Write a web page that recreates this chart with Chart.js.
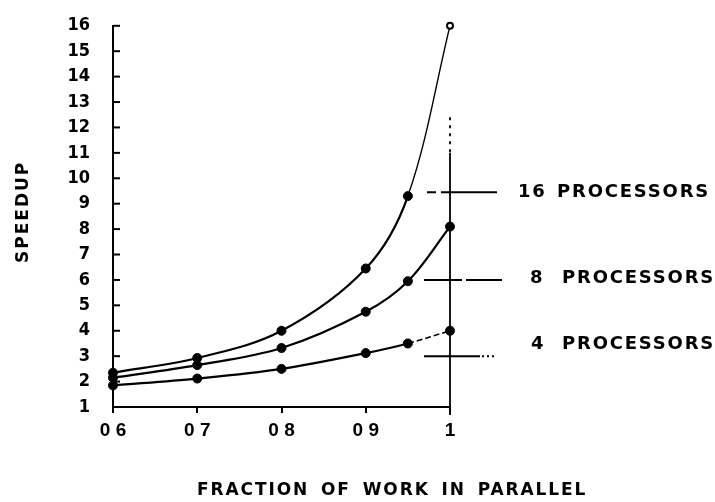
<!DOCTYPE html>
<html>
<head>
<meta charset="utf-8">
<script src="https://cdn.jsdelivr.net/npm/chart.js@4.4.1/dist/chart.umd.min.js"></script>
<style>
  html, body { margin: 0; padding: 0; background: #fff; }
  #wrap { position: relative; width: 715px; height: 502px; overflow: hidden; }
  #chart { position: absolute; left: 0; top: 0; }
  .lbl {
    position: absolute; color: #000; white-space: nowrap;
    font-family: "DejaVu Sans", sans-serif; font-weight: bold;
    font-size: 18px; line-height: 18px; letter-spacing: 1.8px;
  }
  .lbl .n { display: inline-block; }
  #xtitle { font-size: 17px; line-height: 17px; letter-spacing: 1.9px; word-spacing: 4px; }
  #ytitle { font-size: 17px; line-height: 17px; letter-spacing: 2px; transform-origin: 0 0; transform: rotate(-90deg); }
</style>
</head>
<body>
<div id="wrap">
  <canvas id="chart" width="715" height="502"></canvas>
  <div class="lbl" style="left:518px; top:182px;"><span class="n" style="width:39px">16 </span>PROCESSORS</div>
  <div class="lbl" style="left:530px; top:268px;"><span class="n" style="width:32px">8 </span>PROCESSORS</div>
  <div class="lbl" style="left:531px; top:334px;"><span class="n" style="width:31px">4 </span>PROCESSORS</div>
  <div class="lbl" id="xtitle" style="left:197px; top:481px;">FRACTION OF WORK IN PARALLEL</div>
  <div class="lbl" id="ytitle" style="left:14px; top:263px;">SPEEDUP</div>
</div>
<script>
// values
const fractions = [0.6, 0.7, 0.8, 0.9, 0.95, 1];
const speedup16 = [2.35, 2.93, 4.0, 6.45, 9.3, 16];
const speedup8 = [2.15, 2.65, 3.32, 4.75, 5.95, 8.1];
const speedup4 = [1.85, 2.12, 2.5, 3.12, 3.5, 4.0];

const xTickValues = [0.6, 0.7, 0.8, 0.9, 1];
const xTickLabels = ['0 6', '0 7', '0 8', '0 9', '1'];
const yTickValues = [1, 2, 3, 4, 5, 6, 7, 8, 9, 10, 11, 12, 13, 14, 15, 16];

// where the label leaders cross the x = 1 line
const leaderLevels = [9.45, 6, 3];

function pts(arr) {
  return fractions.map((f, i) => ({ x: f, y: arr[i] }));
}

function seg(ctx, x1, y1, x2, y2) {
  ctx.beginPath();
  ctx.moveTo(x1, y1);
  ctx.lineTo(x2, y2);
  ctx.stroke();
}

// inward y ticks, the vertical line at 1 and the label leaders
const decor = {
  id: 'decor',
  afterDraw(chart) {
    const { ctx, chartArea } = chart;
    const xs = chart.scales.x, ys = chart.scales.y;
    ctx.save();
    ctx.strokeStyle = '#000';
    ctx.lineWidth = 2;
    yTickValues.forEach(v => {
      const py = ys.getPixelForValue(v);
      seg(ctx, chartArea.left, py, chartArea.left + 7, py);
    });

    const px = xs.getPixelForValue(1);
    ctx.lineWidth = 1.8;
    ctx.setLineDash([3, 5]);
    seg(ctx, px, ys.getPixelForValue(12.4), px, ys.getPixelForValue(11));
    ctx.setLineDash([]);
    seg(ctx, px, ys.getPixelForValue(11), px, chartArea.bottom + 8);

    ctx.lineWidth = 2;
    const l16 = ys.getPixelForValue(leaderLevels[0]);
    const l8 = ys.getPixelForValue(leaderLevels[1]);
    const l4 = ys.getPixelForValue(leaderLevels[2]);
    seg(ctx, px - 23, l16, px - 14, l16);
    seg(ctx, px - 9, l16, px + 47, l16);
    seg(ctx, px - 26, l8, px + 12, l8);
    seg(ctx, px + 16, l8, px + 52, l8);
    seg(ctx, px - 26, l4, px + 30, l4);
    ctx.setLineDash([2, 3]);
    seg(ctx, px + 32, l4, px + 45, l4);
    ctx.restore();
  }
};

const lineStyle = {
  borderColor: '#000',
  borderWidth: 2.2,
  pointRadius: 4.5,
  pointBackgroundColor: '#000',
  pointBorderColor: '#000',
  pointBorderWidth: 1,
  tension: 0.35,
  clip: false
};

const last = fractions.length - 1;

new Chart(document.getElementById('chart'), {
  type: 'line',
  data: {
    datasets: [
      Object.assign({}, lineStyle, {
        label: '16 PROCESSORS',
        data: pts(speedup16),
        pointBackgroundColor: c => c.dataIndex === last ? '#fff' : '#000',
        pointBorderWidth: c => c.dataIndex === last ? 2 : 1,
        pointRadius: c => c.dataIndex === last ? 3 : 4.5,
        segment: { borderWidth: c => c.p0DataIndex === last - 1 ? 1.4 : 2.2 }
      }),
      Object.assign({}, lineStyle, {
        label: '8 PROCESSORS',
        data: pts(speedup8)
      }),
      Object.assign({}, lineStyle, {
        label: '4 PROCESSORS',
        data: pts(speedup4),
        segment: {
          borderWidth: c => c.p0DataIndex === last - 1 ? 1.6 : 2.2,
          borderDash: c => c.p0DataIndex === last - 1 ? [6, 3] : undefined
        }
      })
    ]
  },
  options: {
    responsive: false,
    animation: false,
    devicePixelRatio: 1,
    layout: { padding: { top: 18, right: 265, left: 0, bottom: 0 } },
    plugins: { legend: { display: false }, tooltip: { enabled: false } },
    scales: {
      x: {
        type: 'linear',
        min: 0.6,
        max: 1,
        afterBuildTicks: s => { s.ticks = xTickValues.map(v => ({ value: v })); },
        afterFit: s => { s.height = 95; },
        grid: { display: true, drawOnChartArea: false, drawTicks: true, tickLength: 6, color: '#000', lineWidth: 2 },
        border: { display: true, color: '#000', width: 2 },
        ticks: {
          color: '#000',
          padding: 6,
          maxRotation: 0,
          autoSkip: false,
          font: { family: '"Liberation Sans", Arial, sans-serif', size: 19, weight: 'bold' },
          callback: (v, i) => xTickLabels[i]
        }
      },
      y: {
        min: 1,
        max: 16,
        afterBuildTicks: s => { s.ticks = yTickValues.map(v => ({ value: v })); },
        afterFit: s => { s.width = 113; },
        grid: { display: false },
        border: { display: true, color: '#000', width: 2 },
        ticks: {
          color: '#000',
          padding: 15,
          autoSkip: false,
          font: { family: '"Liberation Sans Narrow", "DejaVu Sans Condensed", sans-serif', size: 18, weight: 'bold' },
          callback: v => String(v)
        }
      }
    }
  },
  plugins: [decor]
});
</script>
</body>
</html>
